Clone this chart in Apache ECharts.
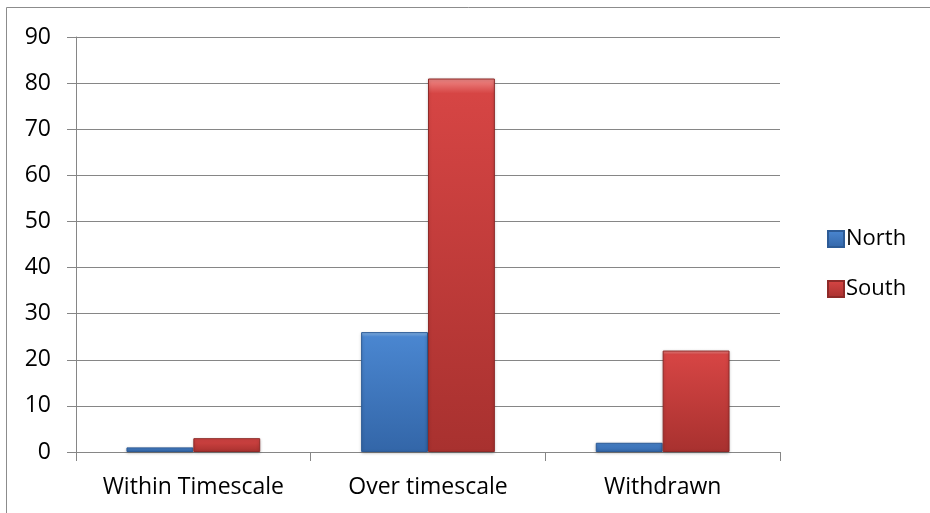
<!DOCTYPE html>
<html>
<head>
<meta charset="utf-8">
<script src="https://cdn.jsdelivr.net/npm/echarts@6/dist/echarts.min.js"></script>
<style>html,body{margin:0;padding:0;background:#fff}#c{width:930px;height:513px}</style>
</head>
<body>
<div id="c"></div>
<script>
var categories = ['Within Timescale', 'Over timescale', 'Withdrawn'];
var seriesNames = ['North', 'South'];
var northValues = [1, 26, 2];
var southValues = [3, 81, 22];
var yMin = 0, yMax = 90, yStep = 10;

var FONT = 'Open Sans';
function grad(top, mid, bot) {
  return new echarts.graphic.LinearGradient(0, 0, 0, 1, [
    {offset: 0, color: top}, {offset: 0.04, color: mid}, {offset: 1, color: bot}
  ]);
}
var chart = echarts.init(document.getElementById('c'), null, {renderer: 'canvas'});
chart.setOption({
  animation: false,
  backgroundColor: '#fff',
  graphic: [{
    type: 'rect', shape: {x: 6.5, y: 7.5, width: 1000, height: 1000},
    style: {fill: 'none', stroke: '#8c8c8c', lineWidth: 1}, z: -1
  }],
  grid: {left: 76, right: 150, top: 37, bottom: 61, containLabel: false},
  legend: {
    orient: 'vertical', left: 822, top: 223, itemGap: 28,
    itemWidth: 16, itemHeight: 16, icon: 'rect',
    textStyle: {fontFamily: FONT, fontSize: 22, color: '#000', padding: [0, 0, 0, -3]},
    data: seriesNames
  },
  xAxis: {
    type: 'category', data: categories,
    axisLine: {lineStyle: {color: '#868686', width: 1}},
    axisTick: {show: true, length: 9, lineStyle: {color: '#868686'}},
    axisLabel: {fontFamily: FONT, fontSize: 23, color: '#000', margin: 24, interval: 0, hideOverlap: false}
  },
  yAxis: {
    type: 'value', min: yMin, max: yMax, interval: yStep,
    axisLine: {show: true, lineStyle: {color: '#868686', width: 1}},
    axisTick: {show: true, length: 9, lineStyle: {color: '#868686'}},
    axisLabel: {fontFamily: FONT, fontSize: 23, color: '#000', margin: 25},
    splitLine: {lineStyle: {color: '#868686', width: 1}}
  },
  series: [{
    name: seriesNames[0], type: 'bar', data: northValues,
    barGap: '0%', barCategoryGap: '43%',
    itemStyle: {
      color: grad('#8cbcf0', '#4a86d0', '#3366a8'),
      borderColor: '#2d5b96', borderWidth: 1,
      shadowColor: 'rgba(0,0,0,0.25)', shadowBlur: 3, shadowOffsetY: 1
    }
  }, {
    name: seriesNames[1], type: 'bar', data: southValues,
    barGap: '0%', barCategoryGap: '43%',
    itemStyle: {
      color: grad('#f08a88', '#d64544', '#a8312f'),
      borderColor: '#8e2a28', borderWidth: 1,
      shadowColor: 'rgba(0,0,0,0.25)', shadowBlur: 3, shadowOffsetY: 1
    }
  }]
});
</script>
</body>
</html>
